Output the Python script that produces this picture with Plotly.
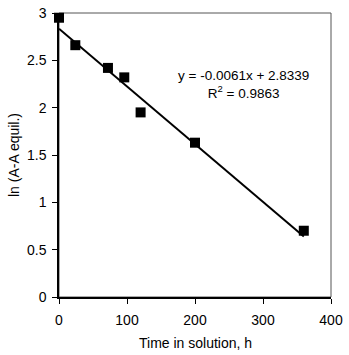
import plotly.graph_objects as go

time_h = [0, 24, 72, 96, 120, 200, 360]
ln_vals = [2.95, 2.66, 2.42, 2.32, 1.95, 1.63, 0.70]
slope = -0.0061
intercept = 2.8339
r2 = 0.9863
fit_x = [0, 360]
fit_y = [intercept + slope * x for x in fit_x]
x_title = "Time in solution, h"
y_title = "ln (A-A equil.)"

W, H = 349, 355
ML, MR, MT, MB = 59, 18, 13, 58
plot_w = W - ML - MR
plot_h = H - MT - MB

fig = go.Figure()
fig.add_trace(go.Scatter(x=fit_x, y=fit_y, mode="lines",
                         line=dict(color="black", width=2), showlegend=False))
fig.add_trace(go.Scatter(x=time_h, y=ln_vals, mode="markers",
                         marker=dict(symbol="square", size=10, color="black"),
                         showlegend=False, cliponaxis=False))

fam = "Liberation Sans, Arial, sans-serif"
font = dict(family=fam, size=14, color="black")
fig.add_annotation(x=272, y=2.25, xref="x", yref="y",
                   text=f"y = {slope}x + {intercept}<br>R<sup>2</sup> = {r2}",
                   showarrow=False, font=dict(family=fam, size=13.5, color="black"),
                   align="center", xanchor="center", yanchor="middle")
# axis titles
fig.add_annotation(x=0.5, y=-46 / plot_h, xref="paper", yref="paper",
                   xanchor="center", yanchor="middle",
                   text=x_title, showarrow=False, font=font)
fig.add_annotation(x=(14 - ML) / plot_w, y=0.5, xref="paper", yref="paper",
                   xanchor="center", yanchor="middle",
                   text=y_title, textangle=-90, showarrow=False, font=font)

fig.update_layout(
    width=W, height=H,
    margin=dict(l=ML, r=MR, t=MT, b=MB),
    paper_bgcolor="white", plot_bgcolor="white",
    font=font,
    xaxis=dict(range=[0, 400], tickvals=[0, 100, 200, 300, 400],
               showgrid=False, zeroline=False, showline=True, linecolor="black", linewidth=1.5,
               ticks="outside", ticklen=5, tickcolor="black", ticklabelstandoff=4,
               mirror=False, automargin=False),
    yaxis=dict(range=[0, 3], tickvals=[0, 0.5, 1, 1.5, 2, 2.5, 3],
               ticktext=["0", "0.5", "1", "1.5", "2", "2.5", "3"],
               showgrid=False, zeroline=False, showline=True, linecolor="black", linewidth=1.5,
               ticks="outside", ticklen=5, tickcolor="black", ticklabelstandoff=3,
               automargin=False),
)
fig.add_shape(type="rect", xref="paper", yref="paper", x0=0, y0=0, x1=1, y1=1,
              line=dict(color="#555555", width=1), layer="below")
fig.write_html("out.html")
